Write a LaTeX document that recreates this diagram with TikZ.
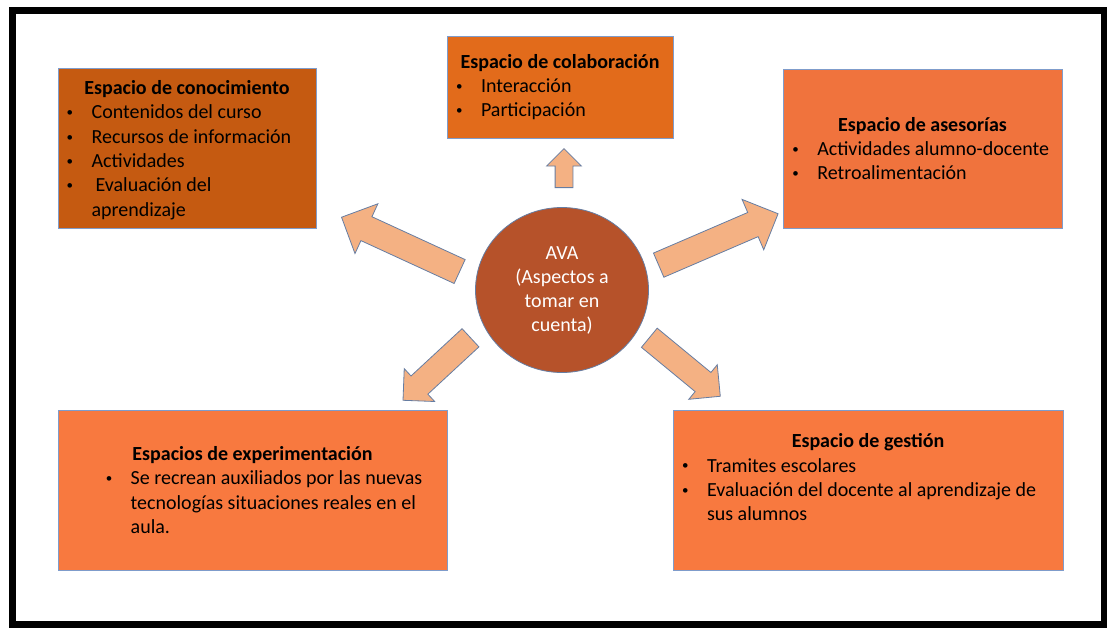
\documentclass[tikz,border=0pt]{standalone}
\usepackage{fontspec}
\setmainfont{Carlito}
\usetikzlibrary{shapes.geometric,shapes.arrows}

\definecolor{conoc}{HTML}{C55A11}
\definecolor{colab}{HTML}{E26B1B}
\definecolor{aseso}{HTML}{F0733D}
\definecolor{exper}{HTML}{F8793F}
\definecolor{circulo}{HTML}{B6522A}
\definecolor{flecha}{HTML}{F4B183}
\definecolor{borde}{HTML}{7F9CCB}

\newcommand{\vineta}{\makebox[27.5pt][l]{\hspace{2.6pt}\raisebox{2.2pt}{\fontsize{13}{13}\selectfont\textbullet}}}
\newcommand{\sangria}{\hspace*{27.5pt}}

\begin{document}
\begin{tikzpicture}[x=1pt, y=1pt,
    every node/.style={font=\fontsize{20}{24}\selectfont},
    caja/.style={draw=borde, line width=0.8pt, rectangle, inner sep=0pt},
    titulo/.style={anchor=base, inner sep=0pt, font=\fontsize{20}{24}\selectfont\bfseries},
    linea/.style={anchor=base west, inner sep=0pt},
    flechota/.style={single arrow, draw=borde!80!black, fill=flecha, line width=0.8pt,
      anchor=tail, inner xsep=0pt, single arrow head extend=#1}]
        \useasboundingbox (0,0) rectangle (1107,-627);
        % marco
        \draw[line width=7pt] (12.5,-10.2) rectangle (1104.5,-624.5);

        % AVA
        \node[ellipse, draw=borde!80!black, line width=0.8pt, fill=circulo, text=white,
          minimum width=173, minimum height=165, align=center, inner sep=0pt]
          (ava) at (562,-290) {AVA\\(Aspectos a\\tomar en\\cuenta)};

        % flechas desde el centro
        \foreach \dx/\dy/\rot/\len/\ext/\half [count=\i] in {2/102/90/39/8.5/8.5,
            -102/18.3/155.3/130/14.25/12.75, 96.3/24.7/23.3/130/14.25/12.75,
            -91.2/-47.5/222.8/92/10/12, 87/-47.5/320.5/92/10/12}{
          \node[flechota=\ext pt, inner ysep=\half pt, minimum height=\len pt, rotate=\rot]
            (f\i) at ([shift={(\dx,\dy)}]ava.center) {};
        }

        % Espacio de conocimiento
        \node[caja, fill=conoc, minimum width=258, minimum height=160] (cono) at (187,-148) {};
        \node[titulo] (tcono) at ([yshift=-27]cono.north) {Espacio de conocimiento};
        \foreach \b/\t [count=\i] in {\vineta/Contenidos del curso, \vineta/Recursos de información,
            \vineta/Actividades, \vineta/\hspace{4pt}Evaluación del, \sangria/aprendizaje}{
          \node[linea] (cono\i) at ([xshift=6.3, yshift=-27-24.3*\i]cono.north west) {\b\t};
        }

        % Espacio de colaboracion
        \node[caja, fill=colab, minimum width=226, minimum height=102] (cola) at (560,-87) {};
        \node[titulo] (tcola) at ([yshift=-33.3]cola.north) {Espacio de colaboración};
        \foreach \b/\t [count=\i] in {\vineta/Interacción, \vineta/Participación}{
          \node[linea] (cola\i) at ([xshift=6.7, yshift=-33.3-24*\i]cola.north west) {\b\t};
        }

        % Espacio de asesorias
        \node[caja, fill=aseso, minimum width=279, minimum height=159] (ases) at (922.5,-148.5) {};
        \node[titulo] (tases) at ([yshift=-62.7]ases.north) {Espacio de asesorías};
        \foreach \b/\t [count=\i] in {\vineta/Actividades alumno-docente, \vineta/Retroalimentación}{
          \node[linea] (ases\i) at ([xshift=7, yshift=-62.7-24.2*\i]ases.north west) {\b\t};
        }

        % Espacios de experimentacion
        \node[caja, fill=exper, minimum width=389, minimum height=160] (expe) at (252.5,-490) {};
        \node[titulo] (texpe) at ([yshift=-51]expe.north) {Espacios de experimentación};
        \foreach \b/\t [count=\i] in {\vineta/Se recrean auxiliados por las nuevas,
            \sangria/tecnologías situaciones reales en el, \sangria/aula.}{
          \node[linea] (expe\i) at ([xshift=45.4, yshift=-51-24.2*\i]expe.north west) {\b\t};
        }

        % Espacio de gestion
        \node[caja, fill=exper, minimum width=390, minimum height=160] (gest) at (868,-490) {};
        \node[titulo] (tgest) at ([yshift=-38.3]gest.north) {Espacio de gestión};
        \foreach \b/\t [count=\i] in {\vineta/Tramites escolares,
            \vineta/Evaluación del docente al aprendizaje de, \sangria/sus alumnos}{
          \node[linea] (gest\i) at ([xshift=6.7, yshift=-38.3-24.2*\i]gest.north west) {\b\t};
        }
\end{tikzpicture}
\end{document}
